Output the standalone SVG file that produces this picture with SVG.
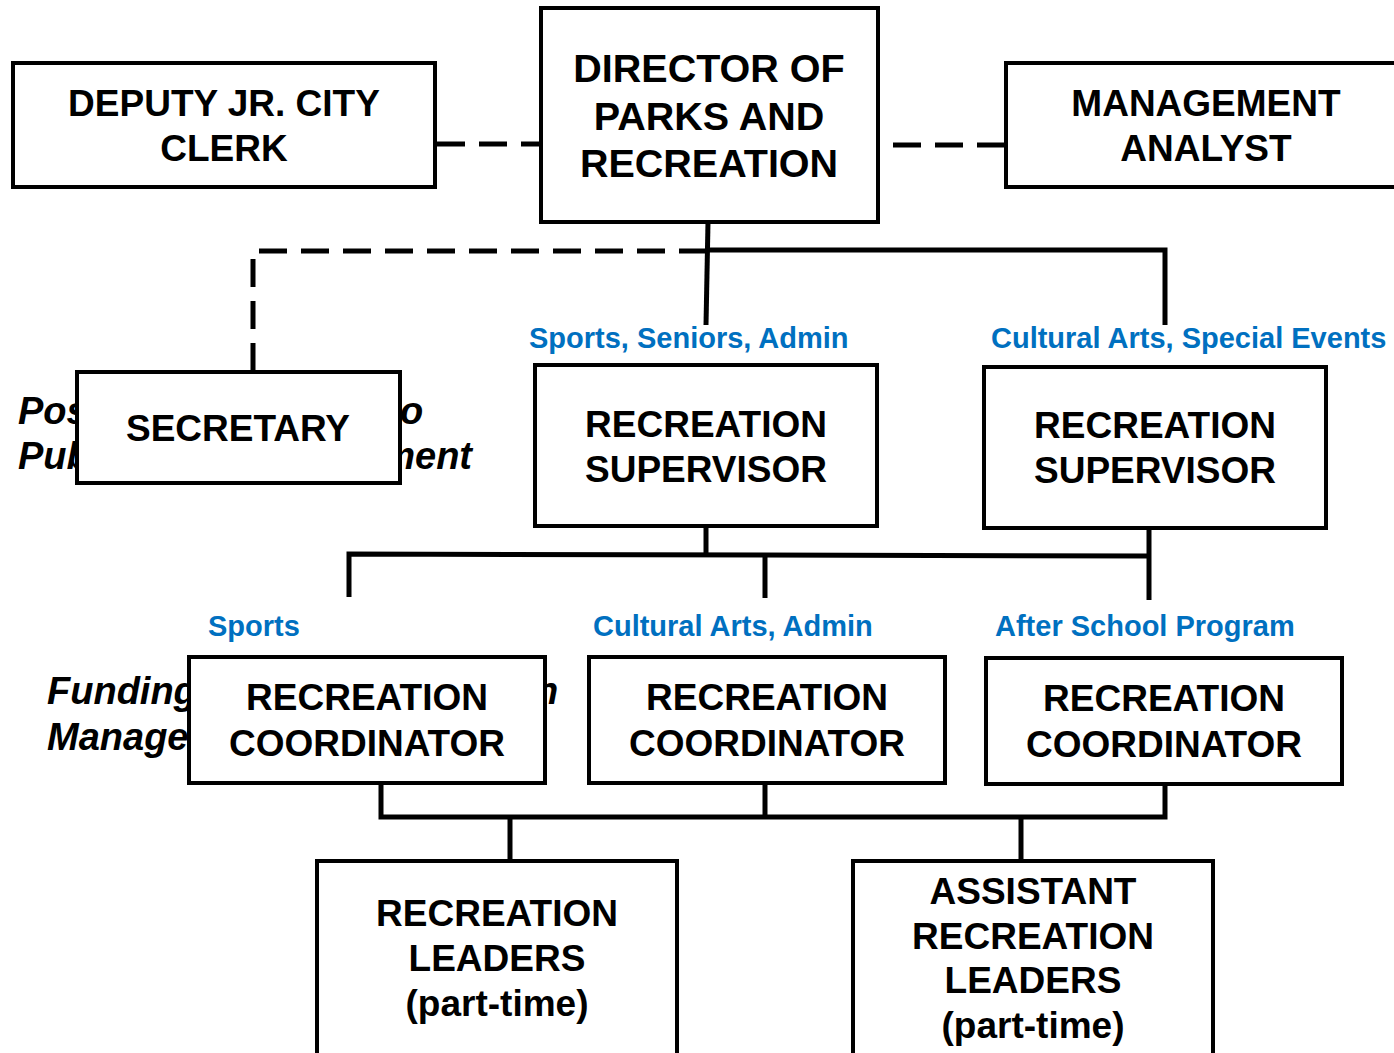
<svg xmlns="http://www.w3.org/2000/svg" width="1394" height="1053" viewBox="0 0 1394 1053">
  <style>
    .box { fill: #ffffff; stroke: #000000; stroke-width: 4; }
    .t { font-family: "Liberation Sans", Arial, sans-serif; font-weight: bold; font-size: 37px; fill: #000000; text-anchor: middle; }
    .big { font-size: 39.5px; }
    .lbl { font-family: "Liberation Sans", Arial, sans-serif; font-weight: bold; font-size: 29px; fill: #0070C0; }
    .note { font-family: "Liberation Sans", Arial, sans-serif; font-weight: bold; font-style: italic; font-size: 38px; fill: #000000; }
    .solid { fill: none; stroke: #000000; stroke-width: 5; stroke-linejoin: miter; }
    .dash { fill: none; stroke: #000000; stroke-width: 5; stroke-dasharray: 28 14; }
  </style>
  <rect width="1394" height="1053" fill="#ffffff"/>

  <!-- notes partly covered by boxes -->
  <g id="notes">
    <text class="note" x="18" y="424">Pos</text>
    <text class="note" x="400" y="424">o</text>
    <text class="note" x="18" y="469">Publ</text>
    <text class="note" x="472" y="469" text-anchor="end">ment</text>
    <text class="note" x="47" y="704">Funding</text>
    <text class="note" x="47" y="750">Manage</text>
    <text class="note" x="535" y="704">n</text>
  </g>

  <!-- connectors -->
  <g id="connectors">
    <path class="dash" d="M437 144 H540"/>
    <path class="dash" d="M893 145 H1005"/>
    <path class="dash" d="M707 251 H253 V370"/>
    <path class="solid" d="M708 222 L706 325"/>
    <path class="solid" d="M707 250 H1165 V325"/>
    <path class="solid" d="M706 526 V554"/>
    <path class="solid" d="M349 597 V554 L1149 556"/>
    <path class="solid" d="M765 555 V598"/>
    <path class="solid" d="M1149 528 V600"/>
    <path class="solid" d="M381 783 V817 H1165 V784"/>
    <path class="solid" d="M765 783 V817"/>
    <path class="solid" d="M510 817 V860"/>
    <path class="solid" d="M1021 817 V860"/>
  </g>

  <!-- branch labels -->
  <g id="labels">
    <text class="lbl" x="529" y="348">Sports, Seniors, Admin</text>
    <text class="lbl" x="991" y="348">Cultural Arts, Special Events</text>
    <text class="lbl" x="208" y="636">Sports</text>
    <text class="lbl" x="593" y="636">Cultural Arts, Admin</text>
    <text class="lbl" x="995" y="636">After School Program</text>
  </g>

  <g id="deputy-clerk">
    <rect class="box" x="13" y="63" width="422" height="124"/>
    <text class="t" x="224" y="116">DEPUTY JR. CITY</text>
    <text class="t" x="224" y="161">CLERK</text>
  </g>

  <g id="director">
    <rect class="box" x="541" y="8" width="337" height="214"/>
    <text class="t big" x="709" y="82">DIRECTOR OF</text>
    <text class="t big" x="709" y="130">PARKS AND</text>
    <text class="t big" x="709" y="177">RECREATION</text>
  </g>

  <g id="management-analyst">
    <rect class="box" x="1006" y="63" width="400" height="124"/>
    <text class="t" x="1206" y="116">MANAGEMENT</text>
    <text class="t" x="1206" y="161">ANALYST</text>
  </g>

  <g id="secretary">
    <rect class="box" x="77" y="372" width="323" height="111"/>
    <text class="t" x="238" y="441">SECRETARY</text>
  </g>

  <g id="supervisor-1">
    <rect class="box" x="535" y="365" width="342" height="161"/>
    <text class="t" x="706" y="437">RECREATION</text>
    <text class="t" x="706" y="482">SUPERVISOR</text>
  </g>

  <g id="supervisor-2">
    <rect class="box" x="984" y="367" width="342" height="161"/>
    <text class="t" x="1155" y="438">RECREATION</text>
    <text class="t" x="1155" y="483">SUPERVISOR</text>
  </g>

  <g id="coordinator-1">
    <rect class="box" x="189" y="657" width="356" height="126"/>
    <text class="t" x="367" y="710">RECREATION</text>
    <text class="t" x="367" y="756">COORDINATOR</text>
  </g>

  <g id="coordinator-2">
    <rect class="box" x="589" y="657" width="356" height="126"/>
    <text class="t" x="767" y="710">RECREATION</text>
    <text class="t" x="767" y="756">COORDINATOR</text>
  </g>

  <g id="coordinator-3">
    <rect class="box" x="986" y="658" width="356" height="126"/>
    <text class="t" x="1164" y="711">RECREATION</text>
    <text class="t" x="1164" y="757">COORDINATOR</text>
  </g>

  <g id="recreation-leaders">
    <rect class="box" x="317" y="861" width="360" height="210"/>
    <text class="t" x="497" y="926">RECREATION</text>
    <text class="t" x="497" y="971">LEADERS</text>
    <text class="t" x="497" y="1016">(part-time)</text>
  </g>

  <g id="assistant-leaders">
    <rect class="box" x="853" y="861" width="360" height="210"/>
    <text class="t" x="1033" y="904">ASSISTANT</text>
    <text class="t" x="1033" y="949">RECREATION</text>
    <text class="t" x="1033" y="993">LEADERS</text>
    <text class="t" x="1033" y="1038">(part-time)</text>
  </g>
</svg>
